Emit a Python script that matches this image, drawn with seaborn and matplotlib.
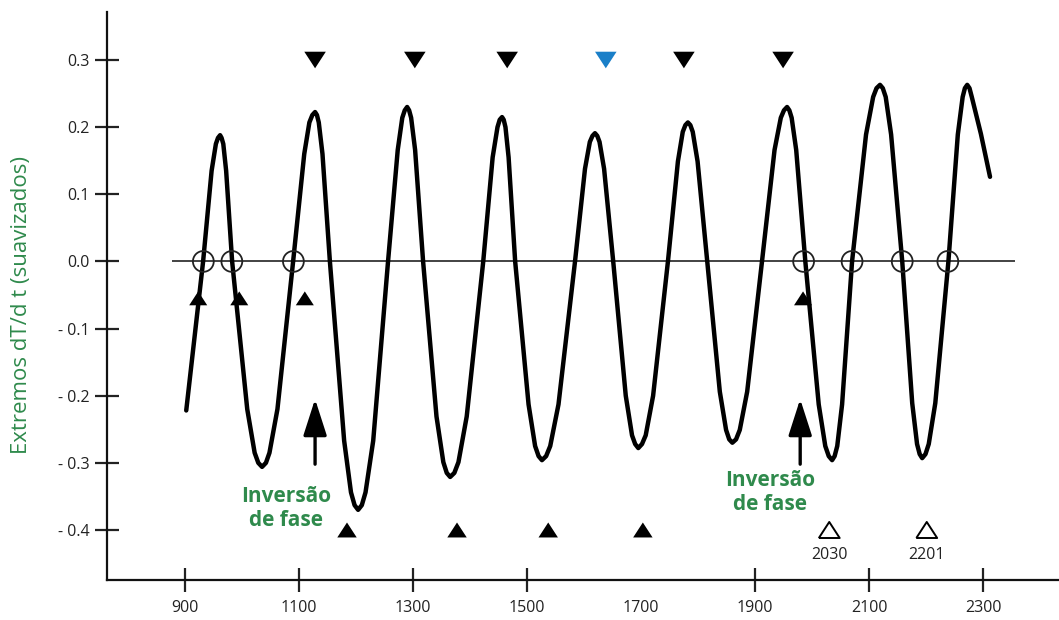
import seaborn as sns
import pandas as pd
import numpy as np
import matplotlib.pyplot as plt

# curve (year, smoothed dT/dt extreme), one row per half cycle
anos = [902, 931.6, 946.5, 954, 957.7, 961.4, 964, 967, 972,
        982.5, 1009, 1022, 1028.4, 1035, 1041.8, 1048, 1062,
        1089.5, 1109, 1118, 1123.2, 1128, 1131.3, 1134.5, 1141,
        1154, 1179, 1191, 1197.3, 1203.5, 1210, 1216.5, 1230,
        1256, 1273, 1281, 1285.3, 1289.5, 1293, 1296.5, 1303.5,
        1317.5, 1341, 1353, 1359, 1365, 1372.3, 1379.5, 1394,
        1423, 1439.5, 1448, 1451.9, 1456, 1458.9, 1462, 1467.5,
        1479, 1502.5, 1514, 1520.1, 1526, 1533.3, 1540.5, 1555,
        1584, 1601.5, 1610, 1614.6, 1619, 1623, 1627, 1635,
        1651, 1673, 1684, 1689.5, 1695, 1701.5, 1708, 1721,
        1747, 1764.5, 1773, 1777.6, 1782, 1786.3, 1790.5, 1799,
        1816, 1838, 1849, 1854.5, 1860, 1866.5, 1873, 1886,
        1912, 1934, 1945, 1950.5, 1956, 1960, 1964, 1972,
        1988, 2011.5, 2023, 2029.1, 2035, 2039.4, 2044, 2052.5,
        2070, 2094.5, 2107, 2112.9, 2119, 2123.9, 2129, 2138.5,
        2158, 2175.5, 2184, 2188.6, 2193, 2198.8, 2204.5, 2216,
        2239, 2255.5, 2264, 2267.9, 2272, 2276, 2280, 2296, 2312]
valores = [-0.222, 0, 0.135, 0.175, 0.184, 0.188, 0.184, 0.175, 0.135,
           0, -0.22, -0.285, -0.300, -0.306, -0.300, -0.285, -0.22,
           0, 0.16, 0.207, 0.218, 0.2225, 0.218, 0.207, 0.16,
           0, -0.267, -0.344, -0.363, -0.37, -0.363, -0.344, -0.267,
           0, 0.166, 0.214, 0.225, 0.23, 0.225, 0.214, 0.166,
           0, -0.231, -0.299, -0.315, -0.321, -0.315, -0.299, -0.231,
           0, 0.155, 0.2, 0.211, 0.215, 0.211, 0.2, 0.155,
           0, -0.213, -0.275, -0.29, -0.296, -0.29, -0.275, -0.213,
           0, 0.138, 0.178, 0.187, 0.191, 0.187, 0.178, 0.138,
           0, -0.2, -0.259, -0.272, -0.278, -0.272, -0.259, -0.2,
           0, 0.149, 0.193, 0.203, 0.207, 0.203, 0.193, 0.149,
           0, -0.194, -0.251, -0.265, -0.27, -0.265, -0.251, -0.194,
           0, 0.166, 0.214, 0.225, 0.23, 0.225, 0.214, 0.166,
           0, -0.213, -0.275, -0.29, -0.296, -0.29, -0.275, -0.213,
           0, 0.189, 0.245, 0.258, 0.263, 0.258, 0.245, 0.189,
           0, -0.211, -0.272, -0.287, -0.293, -0.287, -0.272, -0.211,
           0, 0.189, 0.245, 0.258, 0.263, 0.258, 0.245, 0.19, 0.126]

# markers
cruces_x = [932, 982, 1090, 1985, 2070, 2158, 2238]          # circles on zero line
maximos_x = [1128, 1303, 1465, 1638, 1775, 1949]             # down triangles at 0.3
maximos_color = ["k", "k", "k", "#1a7fc8", "k", "k"]
minimos_x = [1184, 1377, 1537, 1703]                         # up triangles at -0.4
previstos_x = [2030, 2201]                                   # open triangles, forecast
previstos_lbl = ["2030", "2201"]
pequenos_x = [923, 995, 1110, 1984]                          # small triangles below zero
inversao_x = [1128, 1979]

xticks = [900, 1100, 1300, 1500, 1700, 1900, 2100, 2300]
yticks = [0.3, 0.2, 0.1, 0.0, -0.1, -0.2, -0.3, -0.4]
ylbls = ["0.3", "0.2", "0.1", "0.0", "- 0.1", "- 0.2", "- 0.3", "- 0.4"]

verde = "#2f8a4c"

sns.set_style("white")
plt.rcParams["font.family"] = ["Open Sans", "DejaVu Sans"]

fig = plt.figure(figsize=(10.59, 6.2), dpi=100)
ax = fig.add_axes([107 / 1059, 40 / 620, 952 / 1059, 568 / 620])

ax.hlines(0, 877, 2356, color="#222222", lw=1.2, zorder=1)

df = pd.DataFrame({"ano": anos, "dtdt": valores})
sns.lineplot(data=df, x="ano", y="dtdt", sort=False, color="black", lw=3.2, ax=ax, zorder=3,
             solid_joinstyle="round", solid_capstyle="round")

tri_down = [(-1, 0.77), (1, 0.77), (0, -0.77), (-1, 0.77)]
tri_up = [(-1, -0.77), (1, -0.77), (0, 0.77), (-1, -0.77)]

sns.scatterplot(x=cruces_x, y=[0] * len(cruces_x), marker="o", s=15 ** 2, facecolor="none",
                edgecolor="#222222", linewidth=1.3, ax=ax, zorder=4)
sns.scatterplot(x=maximos_x, y=[0.3] * len(maximos_x), marker=tri_down, s=15.5 ** 2,
                color=maximos_color, edgecolor="none", ax=ax, zorder=4)
sns.scatterplot(x=minimos_x, y=[-0.4] * len(minimos_x), marker=tri_up, s=14 ** 2,
                color="k", edgecolor="none", ax=ax, zorder=4)
sns.scatterplot(x=pequenos_x, y=[-0.055] * len(pequenos_x), marker=tri_up, s=13 ** 2,
                color="k", edgecolor="none", ax=ax, zorder=2)
sns.scatterplot(x=previstos_x, y=[-0.4] * len(previstos_x), marker=tri_up, s=15 ** 2,
                facecolor="none", edgecolor="k", linewidth=1.4, ax=ax, zorder=4)
for xv, lbl in zip(previstos_x, previstos_lbl):
    ax.text(xv, -0.425, lbl, ha="center", va="top", fontsize=11.5, color="#222222")

for xv in inversao_x:
    ax.annotate("", xy=(xv, -0.205), xytext=(xv, -0.302),
                arrowprops=dict(arrowstyle="-|>,head_length=1.4,head_width=0.45",
                                color="k", lw=2.4, mutation_scale=16, shrinkA=0, shrinkB=0))

ax.text(1077, -0.368, "Inversão\nde fase", ha="center", va="center", color=verde,
        fontsize=15, fontweight="bold", linespacing=1.15)
ax.text(1926, -0.344, "Inversão\nde fase", ha="center", va="center", color=verde,
        fontsize=15, fontweight="bold", linespacing=1.15)

ax.set_xlim(763, 2433)
ax.set_ylim(-0.4745, 0.3715)
ax.set_xticks(xticks)
ax.set_xticklabels([str(v) for v in xticks])
ax.set_yticks(yticks)
ax.set_yticklabels(ylbls)
ax.tick_params(left=True, bottom=True, direction="inout", length=17, width=1.6, pad=4,
               labelsize=11.5, colors="#222222")
ax.tick_params(axis="x", pad=6)
ax.xaxis.get_major_ticks()[4].tick1line.set_visible(False)
ax.set_xlabel("")
ax.set_ylabel("Extremos dT/d t (suavizados)", color=verde, fontsize=16)
ax.yaxis.set_label_coords(-0.079, 0.484)

for s in ["top", "right"]:
    ax.spines[s].set_visible(False)
for s in ["left", "bottom"]:
    ax.spines[s].set_linewidth(1.6)
    ax.spines[s].set_color("#111111")

fig.savefig("out.png", dpi=100)
